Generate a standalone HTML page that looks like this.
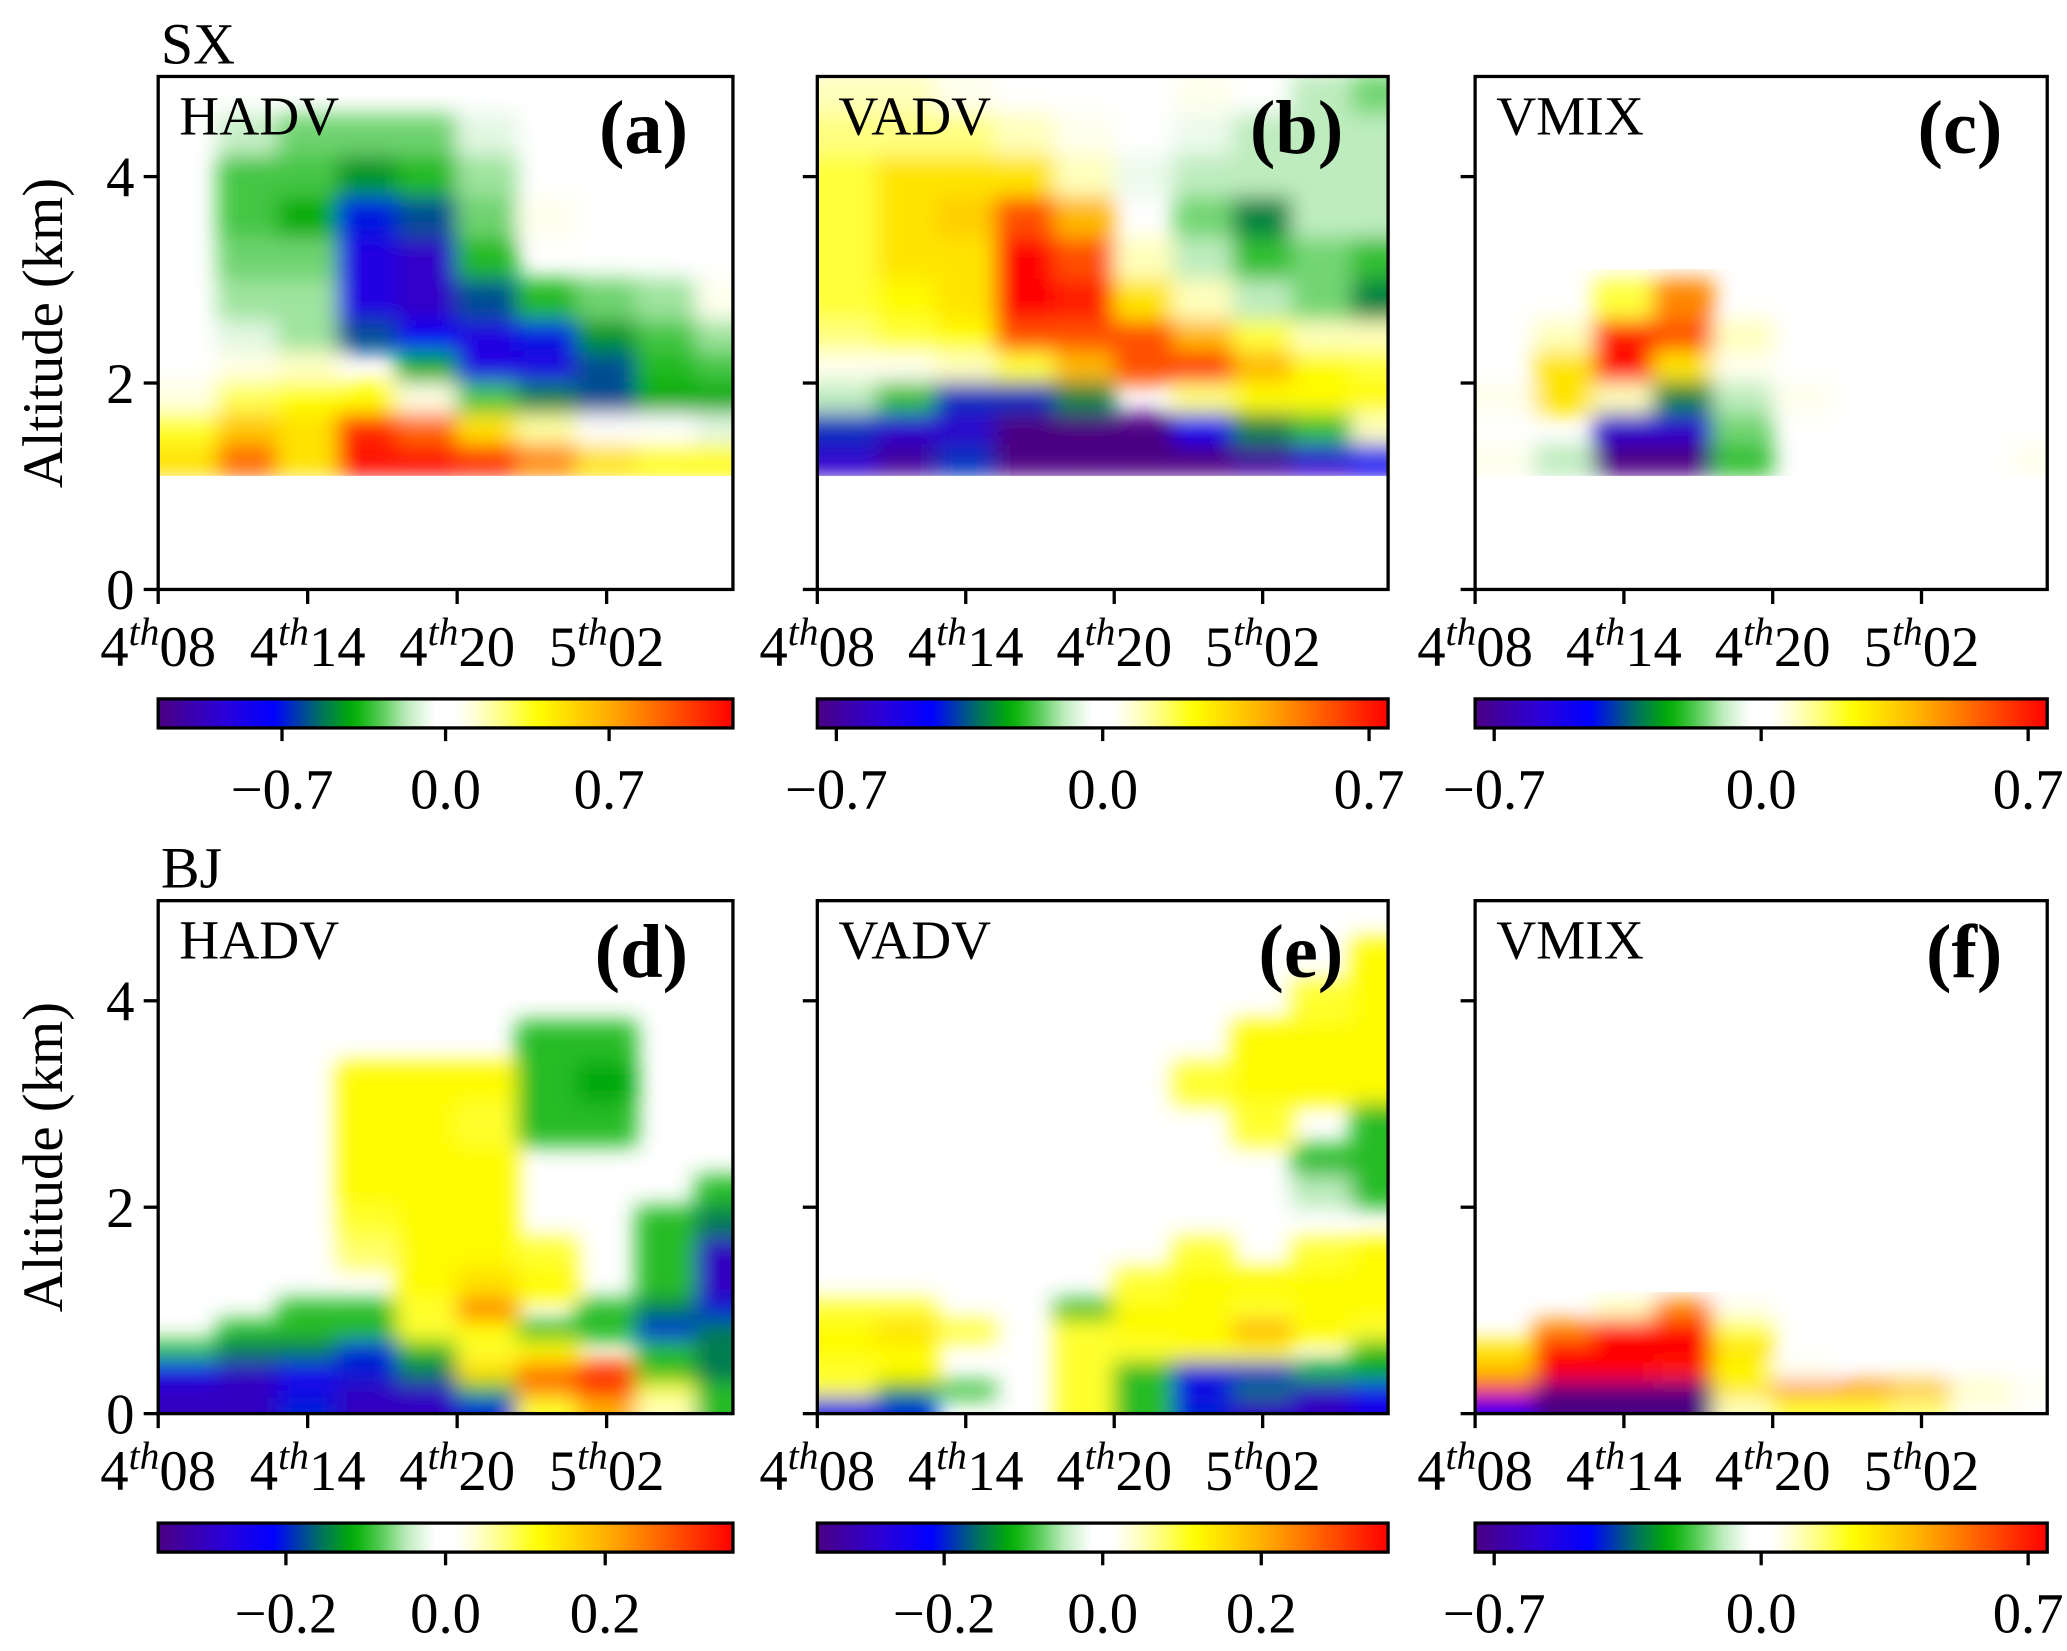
<!DOCTYPE html>
<html><head><meta charset="utf-8"><style>
html,body{margin:0;padding:0;background:#fff}
svg{display:block}
text{font-family:"Liberation Serif",serif;fill:#000}
</style></head><body>
<svg id="fig" width="2067" height="1651" viewBox="0 0 1568 1252" preserveAspectRatio="none">
<defs>
<filter id="soft" x="-5%" y="-5%" width="110%" height="110%"><feGaussianBlur stdDeviation="8"/></filter>
</defs>
</svg>
<script>
// ---- data ----
const altEdges=[5,4.6,4.2,3.8,3.4,3.0,2.6,2.3,2.0,1.7,1.4,1.1,0.9,0.7,0.5,0.3,0.15,0];
const timeCols=[0,2.4,4.8,7.2,9.6,12,14.4,16.8,19.2,21.6,24];
const xTickLabels=["08","14","20","02"];
const xTickDays=["4","4","4","5"];
const xTickHours=[0,6,12,18];
const yTicks=[0,2,4];
const panelTitles=["HADV","VADV","VMIX","HADV","VADV","VMIX"];
const panelLetters=["(a)","(b)","(c)","(d)","(e)","(f)"];
const vmaxes=[1.23,0.75,0.75,0.36,0.36,0.75];
const cbTicks=[[-0.7,0,0.7],[-0.7,0,0.7],[-0.7,0,0.7],[-0.2,0,0.2],[-0.2,0,0.2],[-0.7,0,0.7]];
const cbLabels=[["\u22120.7","0.0","0.7"],["\u22120.7","0.0","0.7"],["\u22120.7","0.0","0.7"],["\u22120.2","0.0","0.2"],["\u22120.2","0.0","0.2"],["\u22120.7","0.0","0.7"]];
const Z0=[0,0,0,0,0,0,0,0,0,0];
const fieldA=[
[0,0,0,0,0,0,0,0,0,0],
[0,-0.15,-0.25,-0.25,-0.25,-0.1,0,0,0,0],
[0,-0.3,-0.3,-0.45,-0.35,-0.2,0,0,0,0],
[0,-0.3,-0.4,-0.7,-0.6,-0.25,0.08,0,0,0],
[0,-0.25,-0.25,-0.9,-1.0,-0.35,0,0,0,0.05],
[0,-0.2,-0.2,-0.9,-1.0,-0.6,-0.35,-0.25,-0.2,0.08],
[0,-0.1,-0.2,-0.6,-0.8,-0.9,-0.7,-0.45,-0.3,-0.2],
[0,0.1,0.15,0,-0.4,-0.9,-0.9,-0.6,-0.35,-0.3],
[0.1,0.3,0.4,0.4,0.1,-0.3,-0.5,-0.6,-0.4,-0.4],
[0.35,0.6,0.5,1.1,0.9,0.5,0.2,0.05,-0.05,-0.1],
[0.5,0.9,0.5,1.2,1.2,1.1,0.8,0.5,0.4,0.4],
Z0,Z0,Z0,Z0,Z0,Z0];
const fieldB=[
[0.1,0.1,0.05,0,0,0,0.05,0,-0.1,-0.15],
[0.15,0.15,0.15,0.1,0.05,0,-0.05,-0.1,-0.1,-0.1],
[0.2,0.3,0.3,0.3,0.1,-0.05,-0.1,-0.1,-0.1,-0.1],
[0.2,0.3,0.35,0.6,0.4,0,-0.15,-0.3,-0.1,-0.1],
[0.2,0.3,0.3,0.75,0.6,0.1,-0.1,-0.2,-0.15,-0.2],
[0.2,0.25,0.3,0.75,0.7,0.3,0.1,-0.1,-0.15,-0.3],
[0.15,0.2,0.25,0.6,0.6,0.6,0.4,0.2,0.1,0.1],
[0.05,0.05,0.1,0.2,0.4,0.6,0.65,0.4,0.25,0.2],
[-0.1,-0.2,-0.4,-0.4,-0.3,0,0.15,0.25,0.25,0.25],
[-0.4,-0.6,-0.6,-0.75,-0.75,-0.75,-0.5,-0.3,-0.2,0.1],
[-0.6,-0.7,-0.4,-0.75,-0.75,-0.75,-0.75,-0.7,-0.6,-0.5],
Z0,Z0,Z0,Z0,Z0,Z0];
const fieldC=[
Z0,Z0,Z0,Z0,Z0,
[0,0,0.2,0.5,0,0,0,0,0,0],
[0,0.1,0.7,0.6,0.1,0,0,0,0,0],
[0,0.3,0.75,0.3,0.05,0,0,0,0,0],
[0.05,0.3,0.1,-0.3,-0.1,0.05,0,0,0,0],
[0,0,-0.6,-0.6,-0.15,0,0,0,0,0],
[0.05,-0.1,-0.75,-0.75,-0.2,0,0,0,0,0.05],
Z0,Z0,Z0,Z0,Z0,Z0];
const fieldD=[
Z0,Z0,Z0,
[0,0,0,0,0,0,-0.1,-0.1,0,0],
[0,0,0,0.12,0.12,0.12,-0.1,-0.12,0,0],
[0,0,0,0.12,0.12,0.1,-0.1,-0.1,0,0],
[0,0,0,0.12,0.12,0.12,0,0,0,0],
[0,0,0,0.12,0.12,0.12,0,0,0,-0.1],
[0,0,0,0.1,0.12,0.12,0,0,-0.1,-0.15],
[0,0,0,0.08,0.12,0.12,0.1,0,-0.1,-0.3],
[0,0,0,0,0.12,0.15,0.12,0,-0.1,-0.3],
[0,0,-0.1,-0.1,0.1,0.25,0,-0.1,-0.15,-0.2],
[0,-0.1,-0.1,-0.1,0.1,0.12,-0.1,-0.1,-0.2,-0.15],
[-0.1,-0.15,-0.15,-0.2,-0.1,0.1,0.12,0,-0.1,-0.15],
[-0.25,-0.3,-0.25,-0.2,-0.15,0.15,0.25,0.3,-0.1,-0.15],
[-0.3,-0.3,-0.25,-0.3,-0.3,-0.1,0.25,0.35,0.1,-0.1],
[-0.3,-0.3,-0.2,-0.3,-0.3,-0.2,0.1,0.2,0.05,-0.1]];
const fieldE=[
Z0,
[0,0,0,0,0,0,0,0,0,0.12],
[0,0,0,0,0,0,0,0,0.1,0.12],
[0,0,0,0,0,0,0,0.12,0.12,0.12],
[0,0,0,0,0,0,0.1,0.12,0.12,0.12],
[0,0,0,0,0,0,0,0.1,0,-0.1],
[0,0,0,0,0,0,0,0,-0.1,-0.1],
[0,0,0,0,0,0,0,0,-0.05,-0.1],
Z0,
[0,0,0,0,0,0,0.1,0,0.1,0.12],
[0,0,0,0,0,0.1,0.12,0.12,0.12,0.12],
[0.1,0.1,0,0,-0.1,0.12,0.12,0.1,0.12,0.12],
[0.12,0.15,0.1,0,0.1,0.12,0.12,0.2,0.12,0.1],
[0.12,0.12,0,0,0.1,0.1,0.12,0.12,0,-0.1],
[0.1,0.12,0,0,0.1,-0.1,-0.2,-0.2,-0.12,-0.12],
[0.1,-0.12,-0.1,0,0.1,-0.1,-0.25,-0.15,-0.3,-0.25],
[-0.25,-0.2,0,0,0.1,-0.1,-0.2,-0.3,-0.3,-0.25]];
const fieldF=[
Z0,Z0,Z0,Z0,Z0,Z0,Z0,Z0,Z0,Z0,Z0,
[0,0,0.1,0.5,0.05,0,0,0,0,0],
[0,0.5,0.75,0.75,0.2,0,0,0,0,0],
[0.3,0.75,0.75,0.75,0.3,0,0,0,0,0],
[0.4,0.75,0.75,0.7,0.25,0.05,0,0,0,0],
[0.75,-0.75,-0.75,-0.75,0.3,0.5,0.5,0.4,0.1,0.05],
[-0.5,-0.75,-0.75,-0.75,0.1,0.2,0.2,0.15,0.05,0]];
const fields=[fieldA,fieldB,fieldC,fieldD,fieldE,fieldF];

// ---- layout ----
const NS="http://www.w3.org/2000/svg";
const svg=document.getElementById('fig');
const colsX=[[120,556],[620,1053],[1119,1553]];
const rowsY=[[58,447],[683,1072]];
const cbOff=[83,105];
const stops=[[0,[75,0,130]],[0.12,[40,0,220]],[0.2,[0,0,255]],[0.28,[0,110,100]],[0.34,[0,175,0]],[0.39,[90,205,90]],[0.43,[185,235,185]],[0.48,[255,255,255]],[0.52,[255,255,255]],[0.56,[255,255,200]],[0.61,[255,255,110]],[0.66,[255,255,0]],[0.78,[255,175,0]],[0.9,[255,80,0]],[1,[255,0,0]]];
function cmap(t){t=Math.max(0,Math.min(1,t));
 for(let i=1;i<stops.length;i++){if(t<=stops[i][0]){const a=stops[i-1],b=stops[i],f=(t-a[0])/(b[0]-a[0]);
 return 'rgb('+a[1].map((v,k)=>Math.round(v+(b[1][k]-v)*f)).join(',')+')';}}return 'rgb(255,0,0)';}
function el(tag,attrs,parent){const e=document.createElementNS(NS,tag);for(const k in attrs)e.setAttribute(k,attrs[k]);(parent||svg).appendChild(e);return e;}

let t=el('text',{x:122,y:48,'font-size':44});t.textContent='SX';


t=el('text',{x:122,y:673,'font-size':44});t.textContent='BJ';



for(let p=0;p<6;p++){
 const r=Math.floor(p/3),c=p%3;
 const [x0,x1]=colsX[c],[y0,y1]=rowsY[r];
 const tMax=23.07;
 const xs=h=>x0+(x1-x0)*h/tMax;
 const ys=a=>y1-(y1-y0)*a/4.97;
 const vmax=vmaxes[p];
 const g=el('g',{});
 
 
 const cp=el('clipPath',{id:'cp'+p},g);
 el('rect',{x:x0,y:y0,width:x1-x0,height:y1-y0},cp);
 const clipG=el('g',{'clip-path':'url(#cp'+p+')'},g);
 el('rect',{x:x0,y:y0,width:x1-x0,height:y1-y0,fill:'#fff'},clipG);
 const heat=el('g',{filter:'url(#soft)'},clipG);
 
 
 const F=fields[p];
 for(let i=0;i<F.length;i++)for(let j=0;j<F[i].length;j++){
  const v=F[i][j];if(v===0)continue;
  let xa=xs(timeCols[j]),xb=xs(timeCols[j+1]),ya=ys(altEdges[i]),yb=ys(altEdges[i+1]);
  if(j===F[i].length-1)xb+=20; if(j===0)xa-=20; if(i===F.length-1)yb+=20;
  const cell=el('rect',{x:xa-0.5,y:ya-0.5,width:xb-xa+1,height:yb-ya+1,fill:cmap(0.5+v/(2*vmax))},heat);
  
  
 }
 if(r===0){const cover=el('rect',{x:x0,y:ys(1.1),width:x1-x0,height:y1-ys(1.1),fill:'#fff'},clipG);
  }
 const fr=el('rect',{x:x0,y:y0,width:x1-x0,height:y1-y0,fill:'none',stroke:'#000','stroke-width':2.5},g);
 
 let tt=el('text',{x:x0+16,y:y0+44,'font-size':42},g);tt.textContent=panelTitles[p];
 
 tt=el('text',{x:x1-34,y:y0+58,'font-size':58,'font-weight':'bold','text-anchor':'end'},g);tt.textContent=panelLetters[p];
 
 for(let k=0;k<xTickHours.length;k++){
  const x=xs(xTickHours[k]);
  el('line',{x1:x,x2:x,y1:y1,y2:y1+11,stroke:'#000','stroke-width':2.5},g);
  const lb=el('text',{x:x,y:y1+58,'font-size':43,'text-anchor':'middle'},g);
  
  const a=el('tspan',{},lb);a.textContent=xTickDays[k];
  const b=el('tspan',{dy:-16,'font-size':30,'font-style':'italic'},lb);b.textContent='th';
  const d=el('tspan',{dy:16},lb);d.textContent=xTickLabels[k];
 }
 for(const v of yTicks){const y=ys(v);el('line',{x1:x0-11,x2:x0,y1:y,y2:y,stroke:'#000','stroke-width':2.5},g);}
 if(c===0){
  for(const v of yTicks){const y=ys(v);
   const lb=el('text',{x:x0-18,y:y+15,'font-size':43,'text-anchor':'end'},g);lb.textContent=v;
   }
  const yl=el('text',{x:0,y:0,'font-size':43,'text-anchor':'middle',transform:'translate(47,'+((y0+y1)/2)+') rotate(-90)'},g);
  yl.textContent='Altitude (km)';
  
 }
 const cy0=y1+cbOff[0],ch=22;
 const gid='gr'+p;
 const lg=el('linearGradient',{id:gid,x1:0,x2:1,y1:0,y2:0},g);
 for(let s=0;s<=60;s++){el('stop',{offset:s/60,'stop-color':cmap(s/60)},lg);}
 const cb=el('rect',{x:x0,y:cy0,width:x1-x0,height:ch,fill:'url(#'+gid+')',stroke:'#000','stroke-width':2.5},g);
 
 const cbx=v=>x0+(x1-x0)*(0.5+v/(2*vmax));
 cbTicks[p].forEach((v,k)=>{const x=cbx(v);
  el('line',{x1:x,x2:x,y1:cy0+ch,y2:cy0+ch+10,stroke:'#000','stroke-width':2.5},g);
  const lb=el('text',{x:x,y:cy0+ch+61,'font-size':43,'text-anchor':'middle'},g);lb.textContent=cbLabels[p][k];
  });
}
</script>
</body></html>
